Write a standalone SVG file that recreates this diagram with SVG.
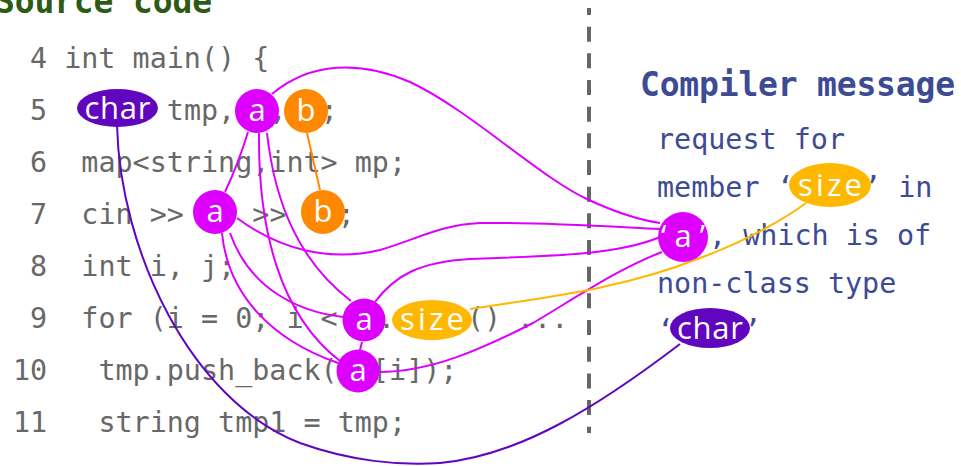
<svg xmlns="http://www.w3.org/2000/svg" width="961" height="466" viewBox="0 0 961 466">
  <style>
    .code { font-family: "DejaVu Sans Mono", "Liberation Mono", monospace; font-size: 28.4px; fill: #686868; }
    .msg { font-family: "DejaVu Sans Mono", "Liberation Mono", monospace; font-size: 28.4px; fill: #3d4a94; }
    .title { font-family: "DejaVu Sans Mono", "Liberation Mono", monospace; font-size: 33px; font-weight: bold; }
    .lbl { font-family: "Open Sans", "Noto Sans", sans-serif; font-size: 31px; fill: #ffffff; text-anchor: middle; }
    .va { fill: #dd00ff; }
    .vb { fill: #ff8800; }
    .vsize { fill: #ffb800; }
    .vchar { fill: #6006bf; }
    .lnk { fill: none; stroke-width: 2; }
    .la { stroke: #dd00ff; }
    .lb { stroke: #ff8800; }
    .lsize { stroke: #ffb800; }
    .lchar { stroke: #6006bf; }
  </style>

  <!-- headings -->
  <text class="title" x="-5" y="13" fill="#2d5a14" textLength="217">Source code</text>
  <text class="title" x="640" y="96" fill="#3d4a94" textLength="315">Compiler message</text>

  <!-- separator -->
  <line x1="589" y1="8" x2="589" y2="433" stroke="#666666" stroke-width="4" stroke-dasharray="15 11.67" stroke-dashoffset="8"/>

  <!-- source listing -->
  <g id="source">
    <text class="code" x="30" y="68">4</text>
    <text class="code" x="64.2" y="68">int main() {</text>
    <text class="code" x="30" y="120">5</text>
    <text class="code" x="166.8" y="120">tmp,</text>
    <text class="code" x="269.4" y="120">,</text>
    <text class="code" x="320.7" y="120">;</text>
    <text class="code" x="30" y="172">6</text>
    <text class="code" x="81.3" y="172">map&lt;string,int&gt; mp;</text>
    <text class="code" x="30" y="224">7</text>
    <text class="code" x="81.3" y="224">cin &gt;&gt;</text>
    <text class="code" x="252.3" y="224">&gt;&gt;</text>
    <text class="code" x="337.8" y="224">;</text>
    <text class="code" x="30" y="276">8</text>
    <text class="code" x="81.3" y="276">int i, j;</text>
    <text class="code" x="30" y="328">9</text>
    <text class="code" x="81.3" y="328">for (i = 0; i &lt;</text>
    <text class="code" x="378" y="328">.</text>
    <text class="code" x="467" y="328">()</text>
    <text class="code" x="517" y="328">...</text>
    <text class="code" x="12.9" y="380">10</text>
    <text class="code" x="98.4" y="380">tmp.push_back(</text>
    <text class="code" x="372" y="380">[i]);</text>
    <text class="code" x="12.9" y="432">11</text>
    <text class="code" x="98.4" y="432">string tmp1 = tmp;</text>
  </g>

  <!-- compiler message -->
  <g id="message">
    <text class="msg" x="657" y="149">request for</text>
    <text class="msg" x="657" y="197">member ‘</text>
    <text class="msg" x="864" y="197">’ in</text>
    <text class="msg" x="709" y="245">, which is of</text>
    <text class="msg" x="657" y="293">non-class type</text>
    <text class="msg" x="657" y="340">‘</text>
    <text class="msg" x="744" y="340">’</text>
  </g>

  <!-- connectors -->
  <g id="connectors">
    <path class="lnk lchar" d="M117,125 C120,250 190,400 300,443 C350,461 400,466 440,463 C520,456 600,405 680,344"/>
    <path class="lnk lb" d="M307,133 L320,190"/>
    <path class="lnk la" d="M248,132 C241,155 233,175 225,192"/>
    <path class="lnk la" d="M259,133 C258,230 280,315 340,361"/>
    <path class="lnk la" d="M267,133 C275,205 300,262 351,301"/>
    <path class="lnk la" d="M222,233 C228,295 272,340 338,363"/>
    <path class="lnk la" d="M230,233 C250,290 300,312 343,317"/>
    <path class="lnk la" d="M362,342 L360,350"/>
    <path class="lnk la" d="M272,94 C310,62 360,60 410,82 C470,110 540,178 589,200 C615,212 640,220 660,223"/>
    <path class="lnk la" d="M237,218 C280,250 330,262 380,250 C420,238 440,225 480,223 C540,222 600,226 660,229"/>
    <path class="lnk la" d="M375,302 C395,275 420,262 470,259 C560,256 620,254 660,237"/>
    <path class="lnk la" d="M379,372 C430,372 480,350 533,323 C580,295 620,268 662,252"/>
    <path class="lnk lsize" d="M470,309 C540,298 620,290 700,258 C750,240 790,215 806,203"/>
  </g>

  <!-- highlighted tokens in the source -->
  <g id="char-src"><ellipse class="vchar" cx="117.5" cy="108" rx="40.5" ry="19"/><text class="lbl" x="117.5" y="119" textLength="66">char</text></g>
  <g id="a-line5"><circle class="va" cx="257" cy="111" r="22"/><text class="lbl" x="257" y="121">a</text></g>
  <g id="b-line5"><circle class="vb" cx="306" cy="111" r="22"/><text class="lbl" x="306" y="121">b</text></g>
  <g id="a-line7"><circle class="va" cx="215" cy="212" r="22"/><text class="lbl" x="215" y="222">a</text></g>
  <g id="b-line7"><circle class="vb" cx="323" cy="212" r="22"/><text class="lbl" x="323" y="222">b</text></g>
  <g id="a-line9"><circle class="va" cx="364" cy="320" r="21.5"/><text class="lbl" x="364" y="330">a</text></g>
  <g id="size-src"><ellipse class="vsize" cx="432" cy="320" rx="40" ry="20"/><text class="lbl" x="432" y="330" textLength="64">size</text></g>
  <g id="a-line10"><circle class="va" cx="358" cy="371" r="21.5"/><text class="lbl" x="358" y="381">a</text></g>

  <!-- highlighted tokens in the message -->
  <g id="size-msg"><ellipse class="vsize" cx="830" cy="185" rx="41" ry="22"/><text class="lbl" x="830" y="196" textLength="64">size</text></g>
  <g id="a-msg"><circle class="va" cx="683" cy="237" r="25"/><text class="lbl" x="683" y="247" textLength="44">‘a’</text></g>
  <g id="char-msg"><ellipse class="vchar" cx="710" cy="328" rx="40" ry="20"/><text class="lbl" x="710" y="339" textLength="66">char</text></g>
</svg>
